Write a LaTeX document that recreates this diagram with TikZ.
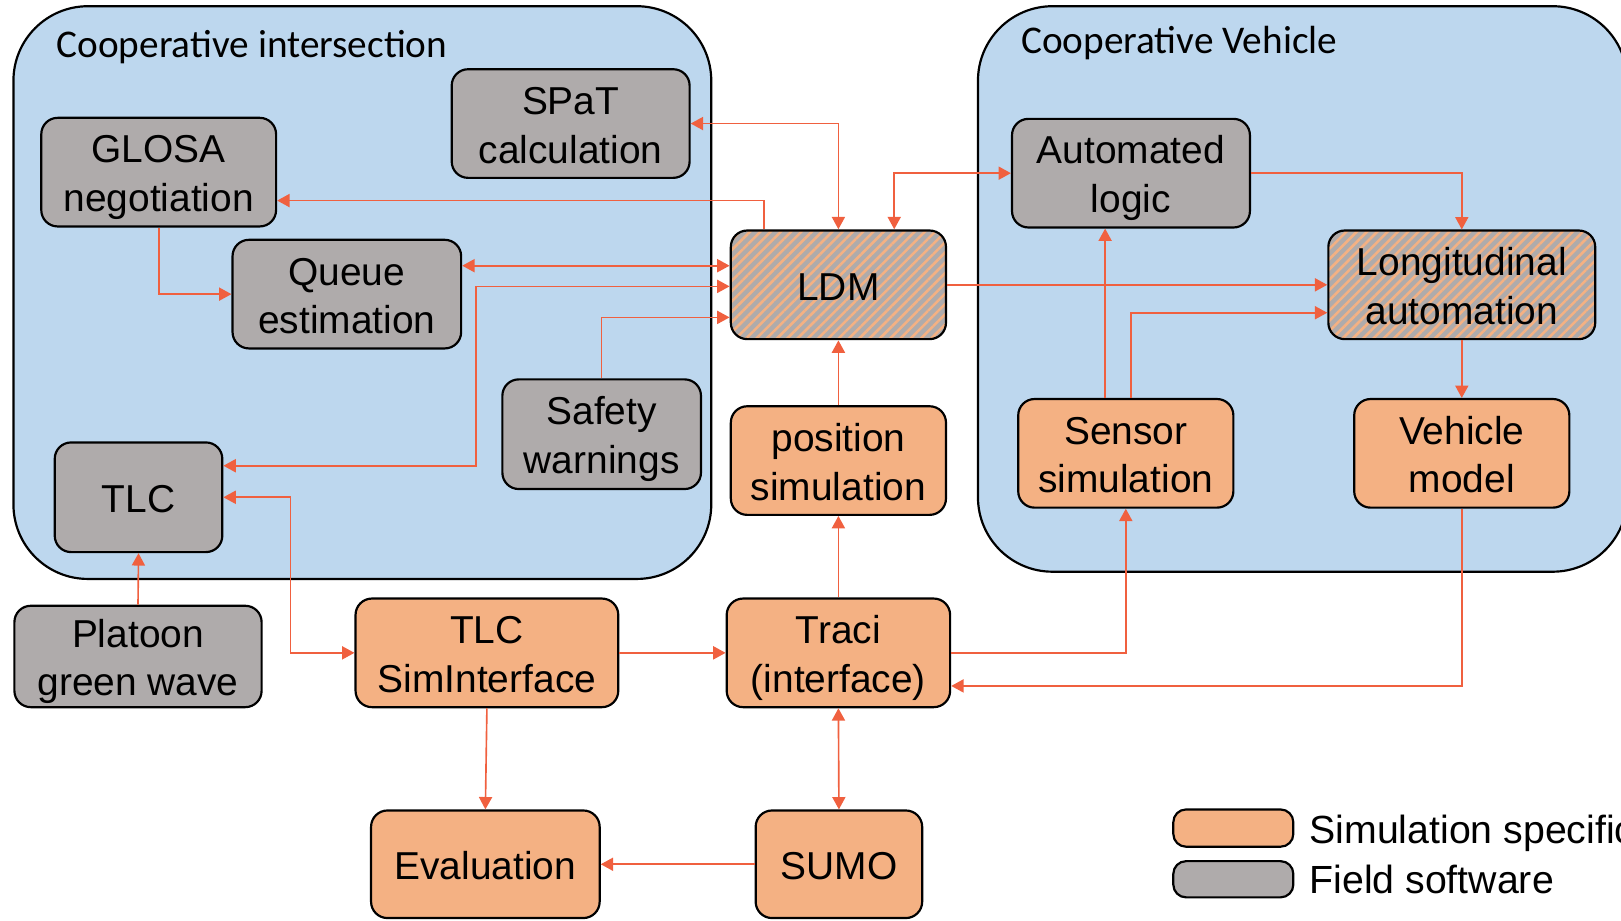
\documentclass[tikz,border=0pt]{standalone}
\usepackage{fontspec}
\setmainfont{Liberation Sans}
\newfontfamily\zonefont{Carlito}
\usetikzlibrary{positioning,calc,arrows.meta,patterns.meta}
\definecolor{zoneBlue}{HTML}{BDD7EE}
\definecolor{fieldGray}{HTML}{AFABAB}
\definecolor{simOrange}{HTML}{F4B183}
\definecolor{linkRed}{HTML}{F0603F}
\newcommand{\boxfont}{\fontsize{10.7}{13.4}\selectfont}
% fixed line height, so every box text sits the same way
\newcommand{\ls}{\rule[-2.1pt]{0pt}{12.6pt}}

\begin{document}
\begin{tikzpicture}[
    x=0.01cm, y=-0.01cm,
    zone/.style={draw=black, fill=zoneBlue, line width=0.6pt, rounded corners=0.72cm},
    zonelabel/.style={font=\zonefont\fontsize{10.8}{12}\selectfont, anchor=base west, inner sep=0pt},
    blk/.style={draw=black, line width=0.6pt, rounded corners=4.5pt, align=center, inner sep=0pt, font=\boxfont, minimum height=1.05cm},
    field/.style={blk, fill=fieldGray},
    sim/.style={blk, fill=simOrange},
    mixed/.style={blk, preaction={fill=fieldGray}, pattern={Lines[angle=45,distance=2pt,line width=0.7pt]}, pattern color=simOrange},
    link/.style={draw=linkRed, line width=0.45pt, >={Triangle[length=3.4pt,width=3.6pt]}},
    legtext/.style={font=\fontsize{10.8}{13}\selectfont, anchor=base west, inner sep=0pt},
]
  \useasboundingbox (0,0) rectangle (1568,890);
  \clip (0,0) rectangle (1568,890);
  % the two field areas
  \draw[zone] (13,6) rectangle (688,560);
  \draw[zone] (946,6) rectangle (1574,553);
  \node[zonelabel] (isecLbl) at (54,55.5) {Cooperative intersection};
  \node[zonelabel] (vehLbl) at (987,51.6) {Cooperative Vehicle};
  % intersection side
  \node[field, minimum width=2.30cm] (spat) at (552,119.5) {\ls SPaT\\\ls calculation};
  \node[field, minimum width=2.27cm] (glosa) at (153.5,166.5) {\ls GLOSA\\\ls negotiation};
  \node[field, minimum width=2.21cm] (queue) at (335.5,284.5) {\ls Queue\\\ls estimation};
  \node[field, minimum width=1.92cm, minimum height=1.06cm] (safety) at (582,420) {\ls Safety\\\ls warnings};
  \node[field, minimum width=1.62cm, minimum height=1.06cm] (tlc) at (134,481) {\ls TLC};
  \node[field, minimum width=2.39cm, minimum height=0.98cm] (platoon) at (133.5,635) {\ls Platoon\\\ls green wave};
  % middle column
  \node[mixed, minimum width=2.08cm] (ldm) at (811,275.5) {\ls LDM};
  \node[sim, minimum width=2.08cm] (pos) at (811,445.5) {\ls position\\\ls simulation};
  \node[sim, minimum width=2.54cm] (tlcsim) at (471,631.5) {\ls TLC\\\ls SimInterface};
  \node[sim, minimum width=2.16cm] (traci) at (811,631.5) {\ls Traci\\\ls (interface)};
  \node[sim, minimum width=2.21cm, minimum height=1.04cm] (eval) at (469.5,836) {\ls Evaluation};
  \node[sim, minimum width=1.61cm, minimum height=1.04cm] (sumo) at (811.5,836) {\ls SUMO};
  % vehicle side
  \node[field, minimum width=2.30cm] (auto) at (1094,167.5) {\ls Automated\\\ls logic};
  \node[mixed, minimum width=2.58cm] (longi) at (1414,275.5) {\ls Longitudinal\\\ls automation};
  \node[sim, minimum width=2.08cm] (sensor) at (1089,438.5) {\ls Sensor\\\ls simulation};
  \node[sim, minimum width=2.08cm] (vehicle) at (1414,438.5) {\ls Vehicle\\\ls model};
  % legend
  \node[sim, minimum width=1.16cm, minimum height=0.36cm, rounded corners=3.5pt] (legSim) at (1193,801) {};
  \node[field, minimum width=1.16cm, minimum height=0.35cm, rounded corners=3.5pt] (legField) at (1193,850.5) {};
  \node[legtext] (legSimTxt) at (1266,815.6) {Simulation specific};
  \node[legtext] (legFieldTxt) at (1266,864) {Field software};
  % links, intersection side
  \draw[link,<->] (spat.east) -| (ldm.north);
  \draw[link,->] ($(ldm.north)+(-72,0)$) |- ($(glosa.east)+(0,27.5)$);
  \draw[link,<->] ($(queue.east)+(0,-27.5)$) coordinate (q1) -- (q1 -| ldm.west);
  \draw[link,<->] ($(tlc.east)+(0,-30.5)$) -| ($(ldm.west)+(-245,1.5)$) -- ($(ldm.west)+(0,1.5)$);
  \draw[link,->] (safety.north) |- ($(ldm.west)+(0,31.5)$);
  \draw[link,->] (glosa.south) |- (queue.west);
  \draw[link,<->] (tlc.east) -- ++(65,0) |- (tlcsim.west);
  \draw[link,->] (platoon.north) -- (tlc.south);
  % links, simulation
  \draw[link,->] (pos.north) -- (ldm.south);
  \draw[link,->] (tlcsim.east) -- (traci.west);
  \draw[link,->] (tlcsim.south) -- (eval.north);
  \draw[link,->] (sumo.west) -- (eval.east);
  \draw[link,<->] (traci.south) -- (sumo.north);
  \draw[link,->] (traci.north) -- (pos.south);
  \draw[link,->] (traci.east) -| (sensor.south);
  \draw[link,->] (vehicle.south) |- ($(traci.east)+(0,32)$);
  % links, vehicle side
  \draw[link,<->] ($(ldm.north)+(54,0)$) |- (auto.west);
  \draw[link,->] (ldm.east) -- (longi.west);
  \draw[link,->] ($(sensor.north)+(5,0)$) |- ($(longi.west)+(0,27)$);
  \draw[link,->] ($(sensor.north)+(-20,0)$) coordinate (s1) -- (s1 |- auto.south);
  \draw[link,->] (auto.east) -| (longi.north);
  \draw[link,->] (longi.south) -- (vehicle.north);
\end{tikzpicture}
\end{document}
